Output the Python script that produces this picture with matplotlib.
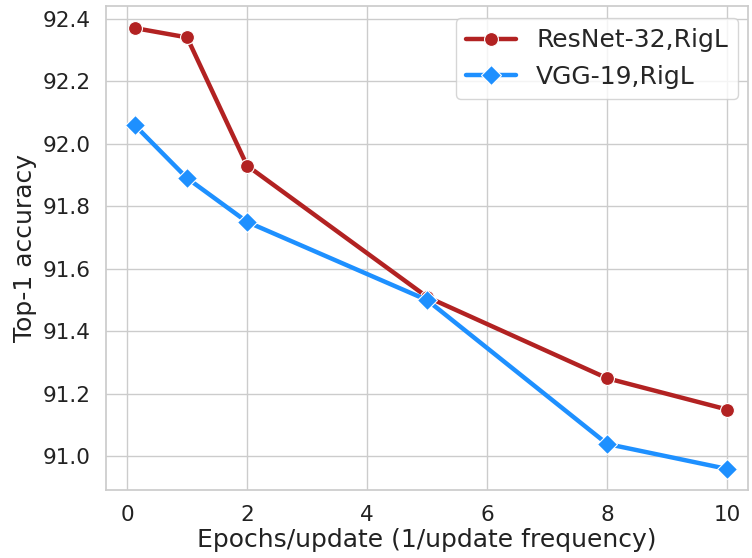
import matplotlib
matplotlib.use("Agg")
import matplotlib.pyplot as plt
import seaborn as sns

sns.set_theme(style="whitegrid")
plt.rcParams['font.family'] = ['DejaVu Sans']

epochs = [0.125, 1, 2, 5, 8, 10]
resnet_acc = [92.37, 92.34, 91.93, 91.51, 91.25, 91.15]
vgg_acc = [92.06, 91.89, 91.75, 91.50, 91.04, 90.96]
xticks = [0, 2, 4, 6, 8, 10]
yticks = [91.0, 91.2, 91.4, 91.6, 91.8, 92.0, 92.2, 92.4]

fig = plt.figure(figsize=(7.52, 5.58), dpi=100)
ax = fig.add_axes([0.141, 0.122, 0.854, 0.867])
ax.plot(epochs, resnet_acc, color='#B22222', lw=3.2, marker='o', ms=10,
        mec='white', mew=0.8, label='ResNet-32,RigL')
ax.plot(epochs, vgg_acc, color='#1E90FF', lw=3.2, marker='D', ms=10,
        mec='white', mew=0.8, label='VGG-19,RigL')
ax.set_xlim(-0.35, 10.35)
ax.set_ylim(90.893, 92.44)
ax.set_xticks(xticks)
ax.set_yticks(yticks)
ax.tick_params(labelsize=15.5, colors='#222222', pad=5)
ax.set_xlabel('Epochs/update (1/update frequency)', fontsize=18, color='#222222', labelpad=2)
ax.set_ylabel('Top-1 accuracy', fontsize=18, color='#222222', labelpad=4)
for s in ax.spines.values():
    s.set_color('#cccccc')
ax.legend(loc='upper right', fontsize=18, bbox_to_anchor=(0.996, 0.99),
          borderaxespad=0.3)
fig.savefig('out.png', dpi=100)
